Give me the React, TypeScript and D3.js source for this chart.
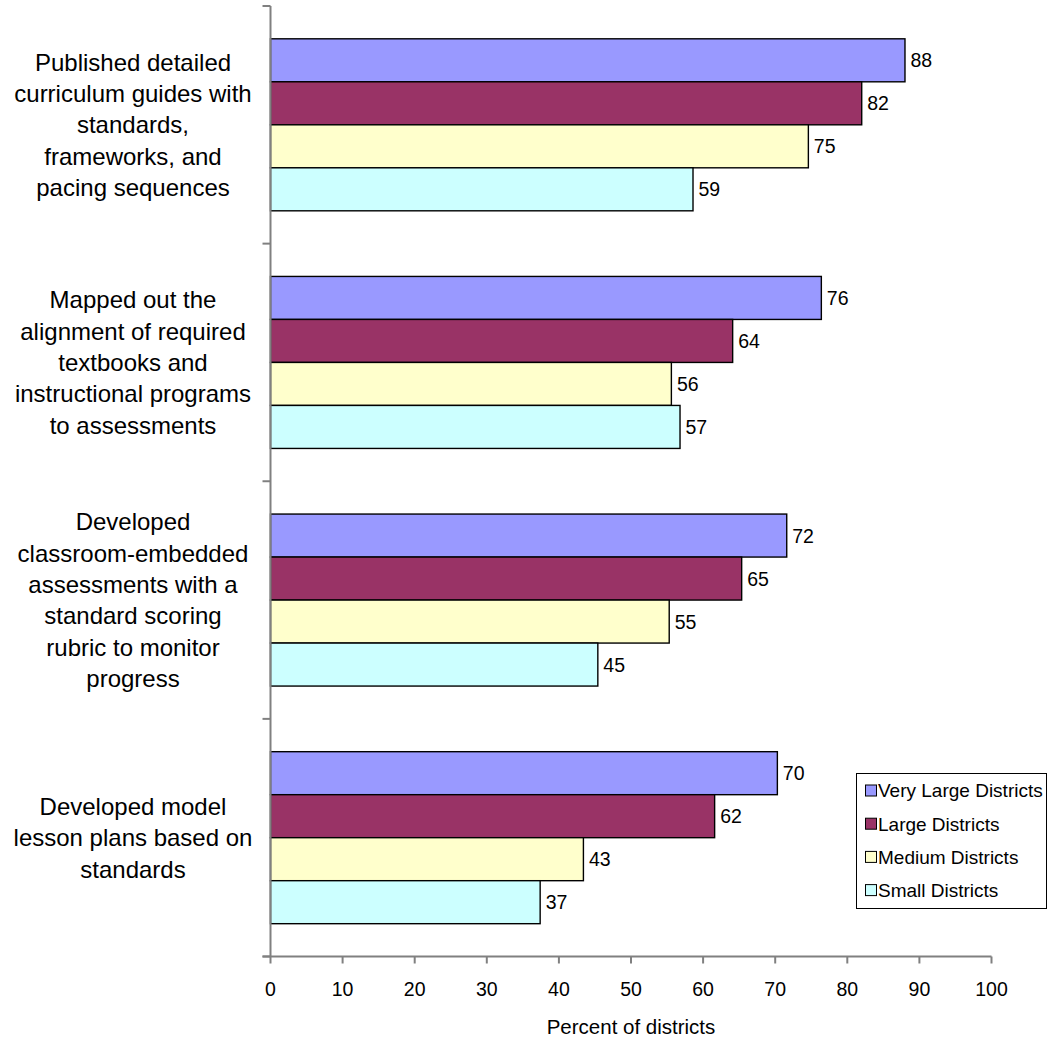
import React from "react";
import * as d3 from "d3";

const categories: string[][] = [
  ["Published detailed", "curriculum guides with", "standards,", "frameworks, and", "pacing sequences"],
  ["Mapped out the", "alignment of required", "textbooks and", "instructional programs", "to assessments"],
  ["Developed", "classroom-embedded", "assessments with a", "standard scoring", "rubric to monitor", "progress"],
  ["Developed model", "lesson plans based on", "standards"],
];

const seriesNames = ["Very Large Districts", "Large Districts", "Medium Districts", "Small Districts"];
const seriesColors = ["#9999FF", "#993366", "#FFFFCC", "#CCFFFF"];

const veryLarge = [88.0, 76.4, 71.6, 70.3];
const large = [82.0, 64.1, 65.35, 61.6];
const medium = [74.6, 55.6, 55.3, 43.4];
const small = [58.6, 56.8, 45.4, 37.4];

const xTicks = [0, 10, 20, 30, 40, 50, 60, 70, 80, 90, 100];
const xTitle = "Percent of districts";

const W = 1048;
const H = 1037;
const left = 270.5;
const right = 991.5;
const top = 6;
const bottom = 956.5;
const FONT = "'Liberation Sans', Arial, sans-serif";

export default function App() {
  const series = [veryLarge, large, medium, small];
  const x = d3.scaleLinear().domain([0, 100]).range([left, right]);
  const y = d3
    .scaleBand<number>()
    .domain(categories.map((_, i) => i))
    .range([top, bottom])
    .padding(0);
  const inner = d3
    .scaleBand<number>()
    .domain(seriesNames.map((_, i) => i))
    .range([0, y.bandwidth()])
    .paddingInner(0)
    .paddingOuter(0.763);

  const boundaries = d3.range(categories.length + 1).map((i) => top + i * y.step());
  const catFs = 24;
  const lineH = 31.3;

  return (
    <svg
      width={W}
      height={H}
      style={{ position: "absolute", left: 0, top: 0, background: "#fff" }}
      fontFamily={FONT}
    >
      <rect x={0} y={0} width={W} height={H} fill="#fff" />
      {/* bars */}
      {categories.map((_, ci) =>
        series.map((vals, si) => {
          const y0 = (y(ci) as number) + (inner(si) as number);
          const v = vals[ci];
          return (
            <g key={`b-${ci}-${si}`}>
              <rect
                x={x(0)}
                y={y0}
                width={x(v) - x(0)}
                height={inner.bandwidth()}
                fill={seriesColors[si]}
                stroke="#000"
                strokeWidth={1.4}
              />
              <text
                x={x(v) + 5.5}
                y={y0 + inner.bandwidth() / 2}
                dy="0.36em"
                fontSize={19.5}
                fill="#000"
              >
                {Math.round(v)}
              </text>
            </g>
          );
        })
      )}
      {/* y axis */}
      <line x1={left} x2={left} y1={top} y2={bottom} stroke="#808080" strokeWidth={2} />
      {boundaries.map((b, i) => (
        <line key={`yt-${i}`} x1={left - 8} x2={left} y1={b} y2={b} stroke="#808080" strokeWidth={2} />
      ))}
      {/* x axis */}
      <line x1={left - 8} x2={right} y1={bottom} y2={bottom} stroke="#808080" strokeWidth={2} />
      {xTicks.map((t) => (
        <g key={`xt-${t}`}>
          <line x1={x(t)} x2={x(t)} y1={bottom} y2={bottom + 7} stroke="#808080" strokeWidth={2} />
          <text x={x(t)} y={996} textAnchor="middle" fontSize={19.5} fill="#000">
            {t}
          </text>
        </g>
      ))}
      <text x={(left + right) / 2} y={1034} textAnchor="middle" fontSize={20.5} fill="#000">
        {xTitle}
      </text>
      {/* category labels */}
      {categories.map((lines, ci) => {
        const cy = (y(ci) as number) + y.bandwidth() / 2;
        const first = cy - ((lines.length - 1) / 2) * lineH + catFs * 0.716 / 2;
        return (
          <text key={`c-${ci}`} textAnchor="middle" fontSize={catFs} fill="#000">
            {lines.map((l, li) => (
              <tspan key={li} x={133} y={first + li * lineH}>
                {l}
              </tspan>
            ))}
          </text>
        );
      })}
      {/* legend */}
      <rect x={856.5} y={773.5} width={190} height={135} fill="#fff" stroke="#000" strokeWidth={1} />
      {seriesNames.map((n, i) => {
        const cy = 790.5 + i * 33.2;
        return (
          <g key={`lg-${i}`}>
            <rect x={865.5} y={cy - 5.5} width={11} height={11} fill={seriesColors[i]} stroke="#000" strokeWidth={1} />
            <text x={878} y={cy} dy="0.36em" fontSize={19} fill="#000">
              {n}
            </text>
          </g>
        );
      })}
    </svg>
  );
}
